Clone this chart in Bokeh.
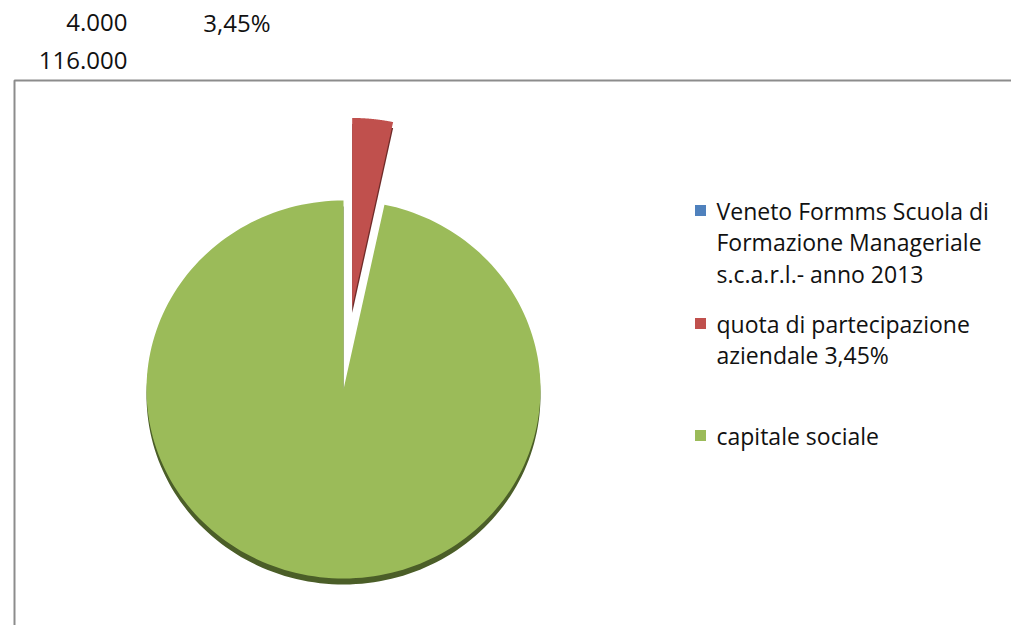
import numpy as np
from bokeh.plotting import figure
from bokeh.models import Range1d
from bokeh.core.properties import value
from bokeh.embed import file_html
from bokeh.resources import INLINE

# ---- data ----
categories = ["Veneto Formms Scuola di Formazione Manageriale s.c.a.r.l.- anno 2013",
              "quota di  partecipazione aziendale 3,45%",
              "capitale sociale"]
legend_lines = [["Veneto Formms Scuola di", "Formazione Manageriale", "s.c.a.r.l.- anno 2013"],
                ["quota di  partecipazione", "aziendale 3,45%"],
                ["capitale sociale"]]
values = [0, 4000, 116000]
colors = ["#4f81bd", "#c0504d", "#9bbb59"]
shadow_colors = ["#2c4a70", "#6e2b29", "#4b5e28"]
explode = [0, 83, 0]
header_row1 = ["4.000", "3,45%"]
header_row2 = ["116.000"]

FONT = "Open Sans"

p = figure(width=1011, height=625, output_backend="svg", toolbar_location=None,
           x_range=Range1d(0, 1011), y_range=Range1d(625, 0), min_border=0)
p.axis.visible = False
p.grid.visible = False
p.outline_line_color = None
p.background_fill_color = "white"
p.border_fill_color = "white"

# chart frame
p.line([14, 14, 1011], [625, 80, 80], line_color="#8c8c8c", line_width=2)

# header texts
p.text([127, 270], [22, 22], text=header_row1, text_align="right", text_baseline="middle",
       text_font=value(FONT), text_font_size="24px", text_color="#111111")
p.text([127], [60], text=header_row2, text_align="right", text_baseline="middle",
       text_font=value(FONT), text_font_size="24px", text_color="#111111")

# pie
cx, cy, rx, ry = 343, 389, 197, 189
total = sum(values)
start = 90.0
wedges = []
for v, col, sh, ex in zip(values, colors, shadow_colors, explode):
    span = 360.0 * v / total
    a0, a1 = start, start - span
    start = a1
    if v == 0:
        continue
    mid = np.radians((a0 + a1) / 2)
    ox, oy = ex * np.cos(mid), -ex * np.sin(mid)
    th = np.radians(np.linspace(a0, a1, 200))
    xs = np.concatenate([[cx + ox], cx + ox + rx * np.cos(th)])
    ys = np.concatenate([[cy + oy], cy + oy - ry * np.sin(th)])
    wedges.append((xs, ys, col, sh))

for xs, ys, col, sh in wedges:
    p.patch(xs, ys + 6, fill_color=sh, line_color=None)
for xs, ys, col, sh in wedges:
    p.patch(xs, ys, fill_color=col, line_color=None)

# legend
y_starts = [210, 323, 435]
lh = 31.5
for lines, col, y0 in zip(legend_lines, colors, y_starts):
    p.rect([700], [y0], width=11, height=11, fill_color=col, line_color=None)
    p.text([716] * len(lines), [y0 + i * lh for i in range(len(lines))], text=lines,
           text_baseline="middle", text_font=value(FONT), text_font_size="23px",
           text_color="#111111")

open("out.html", "w").write(file_html(p, INLINE))
